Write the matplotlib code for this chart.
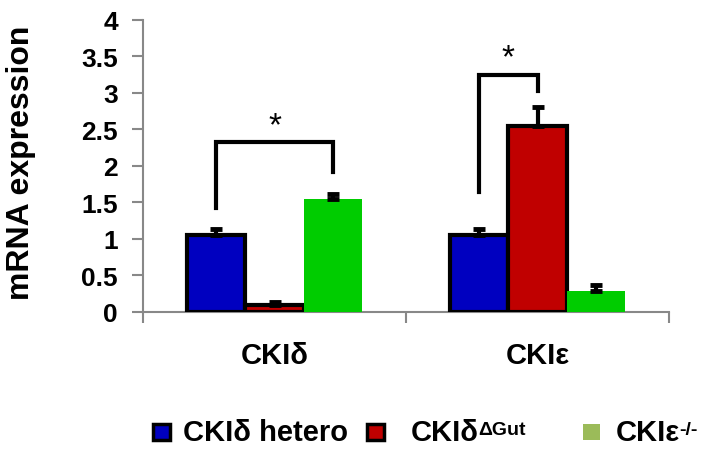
#!/usr/bin/env python3
"""Relative mRNA expression of CKI delta / epsilon in three genotypes."""

import matplotlib

matplotlib.use("Agg")
import matplotlib.pyplot as plt
from matplotlib.patches import Rectangle
import numpy as np

plt.rcParams["font.family"] = ["Liberation Sans", "DejaVu Sans"]
plt.rcParams["font.weight"] = "bold"

categories = ["CKIδ", "CKIε"]
groups = ["CKIδ hetero", "CKIδ", "CKIε"]
group_sup = ["", "ΔGut", "-/-"]
values = {
    "hetero": [1.06, 1.06],
    "dgut": [0.10, 2.54],
    "ko": [1.54, 0.29],
}
errors = {
    "hetero": [0.07, 0.07],
    "dgut": [0.04, 0.27],
    "ko": [0.08, 0.08],
}
# significance brackets: (x_left, y_left, x_right, y_right, y_top)
brackets = [
    (0.278, 1.42, 0.722, 1.91, 2.32),
    (1.278, 1.64, 1.500, 3.02, 3.25),
]
yticks = [0, 0.5, 1, 1.5, 2, 2.5, 3, 3.5, 4]

BLUE = "#0000c0"
RED = "#c00000"
GREEN = "#00cc00"
LEGEND_GREEN = "#9bbb59"
GREY = "#888888"

fig = plt.figure(figsize=(7.09, 4.56), dpi=100)
ax = fig.add_axes([143 / 709, 1 - 313 / 456, (669 - 143) / 709, (313 - 20.7) / 456])

x = np.array([0.5, 1.5])
w = 0.222
series = [("hetero", BLUE, True), ("dgut", RED, True), ("ko", GREEN, False)]
for i, (key, color, edged) in enumerate(series):
    pos = x + (i - 1) * w
    ax.bar(pos, values[key], width=w, color=color,
           edgecolor="black" if edged else "none", linewidth=3 if edged else 0,
           zorder=3)
    ax.errorbar(pos, values[key], yerr=[np.zeros(2), errors[key]], fmt="none",
                ecolor="black", elinewidth=3, capsize=4.5, capthick=3.5, zorder=4)

for xl, yl, xr, yr, yt in brackets:
    ax.plot([xl, xl, xr, xr], [yl, yt, yt, yr], color="black", lw=3,
            solid_joinstyle="miter", zorder=5)
    ax.text((xl + xr) / 2, yt + 0.02, "*", ha="center", va="bottom",
            fontsize=24, fontweight="normal")

ax.set_xlim(0, 2)
ax.set_ylim(0, 4)
ax.set_yticks(yticks)
ax.set_yticklabels([f"{t:g}" for t in yticks], fontsize=19, fontweight="bold")
ax.set_xticks([0, 1, 2])
ax.set_xticklabels([])
ax.set_xticks(x, minor=True)
ax.set_xticklabels(categories, minor=True, fontsize=21, fontweight="bold")
ax.tick_params(axis="x", which="minor", length=0, pad=21)
ax.tick_params(axis="both", which="major", length=8, width=1.5, color=GREY)
ax.tick_params(axis="y", pad=10)
for side in ["top", "right"]:
    ax.spines[side].set_visible(False)
for side in ["left", "bottom"]:
    ax.spines[side].set_color(GREY)
    ax.spines[side].set_linewidth(1.5)
fig.text(21 / 709, 1 - 163 / 456, "mRNA expression", rotation=90, fontsize=23,
         fontweight="bold", ha="center", va="center")

# legend built by hand
fig.canvas.draw()
renderer = fig.canvas.get_renderer()
ly = 1 - 433 / 456
legend_items = [
    (153, BLUE, True, 183, groups[0], group_sup[0]),
    (367, RED, True, 411, groups[1], group_sup[1]),
    (583, LEGEND_GREEN, False, 616, groups[2], group_sup[2]),
]
for mx, color, edged, tx, label, sup in legend_items:
    fig.patches.append(Rectangle((mx / 709, ly - 8 / 456), 17 / 709, 16 / 456,
                                 transform=fig.transFigure, facecolor=color,
                                 edgecolor="black" if edged else "none",
                                 linewidth=2.5 if edged else 0))
    t = fig.text(tx / 709, ly, label, fontsize=21, fontweight="bold",
                 va="center", ha="left")
    if sup:
        bb = t.get_window_extent(renderer)
        fig.text((bb.x1 - 1) / 709, (bb.y1 - 3) / 456, sup, fontsize=14,
                 fontweight="bold", va="top", ha="left")

fig.savefig("out.png", dpi=100)
